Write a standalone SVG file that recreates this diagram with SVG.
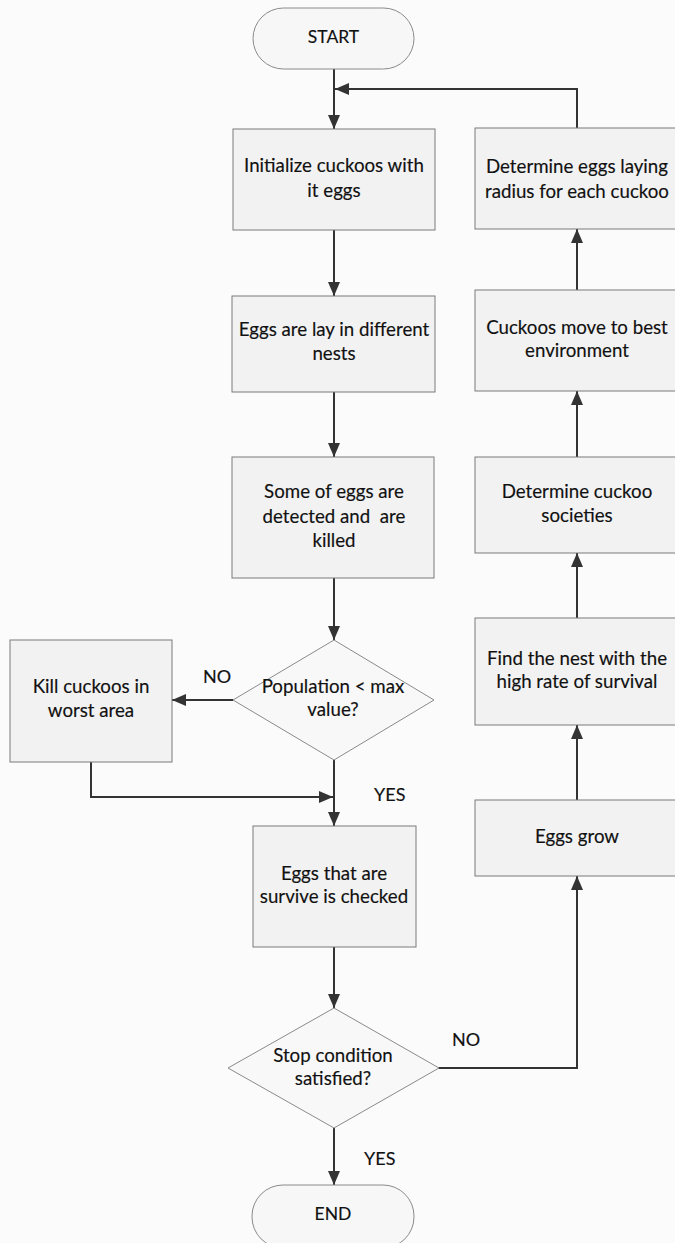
<svg xmlns="http://www.w3.org/2000/svg" width="675" height="1243" viewBox="0 0 675 1243">
<style>
  .bg { fill: #fbfbfb; }
  .box { fill: #f2f2f2; stroke: #7a7a7a; stroke-width: 1; }
  .term { fill: #f7f7f7; stroke: #8a8a8a; stroke-width: 1; }
  .dia { fill: #f8f8f8; stroke: #8a8a8a; stroke-width: 1; }
  .t { font-family: Lato, "Liberation Sans", sans-serif; font-size: 18.7px; fill: #111111; stroke: #111111; stroke-width: 0.15; text-anchor: middle; }
  .lbl { font-family: Lato, "Liberation Sans", sans-serif; font-size: 18px; fill: #111111; stroke: #111111; stroke-width: 0.15; }
  .st { font-size: 17.5px; }
  .c { fill: none; stroke: #333333; stroke-width: 2; }
</style>
<defs>
  <marker id="ah" viewBox="0 0 14 12" refX="14" refY="6" markerWidth="14" markerHeight="12" markerUnits="userSpaceOnUse" orient="auto">
    <path d="M0,0 L14,6 L0,12 Z" fill="#333333"/>
  </marker>
</defs>
<rect class="bg" x="0" y="0" width="675" height="1243"/>

<g id="connectors">
  <path class="c" d="M334,69 V129" marker-end="url(#ah)"/>
  <path class="c" d="M577,128 V89 H335" marker-end="url(#ah)"/>
  <path class="c" d="M334,230 V296" marker-end="url(#ah)"/>
  <path class="c" d="M334,392 V457" marker-end="url(#ah)"/>
  <path class="c" d="M334,578 V640" marker-end="url(#ah)"/>
  <path class="c" d="M233,700 H172" marker-end="url(#ah)"/>
  <path class="c" d="M91,762 V797 H333" marker-end="url(#ah)"/>
  <path class="c" d="M334,760 V826" marker-end="url(#ah)"/>
  <path class="c" d="M334,947 V1008" marker-end="url(#ah)"/>
  <path class="c" d="M438,1068 H577 V876" marker-end="url(#ah)"/>
  <path class="c" d="M577,800 V725" marker-end="url(#ah)"/>
  <path class="c" d="M577,618 V553" marker-end="url(#ah)"/>
  <path class="c" d="M577,457 V391" marker-end="url(#ah)"/>
  <path class="c" d="M577,290 V229" marker-end="url(#ah)"/>
  <path class="c" d="M334,1128 V1185" marker-end="url(#ah)"/>
</g>

<g id="start">
  <rect class="term" x="253" y="8" width="161" height="61" rx="30.5"/>
  <text class="t st" x="333.5" y="43">START</text>
</g>
<g id="init">
  <rect class="box" x="233" y="129" width="202" height="101"/>
  <text class="t" x="334" y="172">Initialize cuckoos with</text>
  <text class="t" x="334" y="197">it eggs</text>
</g>
<g id="lay">
  <rect class="box" x="232" y="296" width="203" height="96"/>
  <text class="t" x="334" y="336">Eggs are lay in different</text>
  <text class="t" x="334" y="360">nests</text>
</g>
<g id="detect">
  <rect class="box" x="232" y="457" width="202" height="121"/>
  <text class="t" x="334" y="498">Some of eggs are</text>
  <text class="t" x="334" y="523" xml:space="preserve">detected and  are</text>
  <text class="t" x="334" y="547">killed</text>
</g>
<g id="population">
  <polygon class="dia" points="334,640 434,700 334,760 233,700"/>
  <text class="t" x="333" y="693">Population &lt; max</text>
  <text class="t" x="333" y="716">value?</text>
</g>
<g id="kill">
  <rect class="box" x="10" y="640" width="162" height="122"/>
  <text class="t" x="91" y="693">Kill cuckoos in</text>
  <text class="t" x="91" y="717">worst area</text>
</g>
<g id="survive">
  <rect class="box" x="253" y="826" width="163" height="121"/>
  <text class="t" x="334" y="880">Eggs that are</text>
  <text class="t" x="334" y="903">survive is checked</text>
</g>
<g id="stop">
  <polygon class="dia" points="334,1008 439,1068 334,1128 228,1068"/>
  <text class="t" x="333" y="1062">Stop condition</text>
  <text class="t" x="333" y="1085">satisfied?</text>
</g>
<g id="end">
  <rect class="term" x="252" y="1185" width="162" height="63" rx="31"/>
  <text class="t st" x="333" y="1220">END</text>
</g>
<g id="radius">
  <rect class="box" x="475" y="128" width="202" height="101"/>
  <text class="t" x="577" y="173">Determine eggs laying</text>
  <text class="t" x="577" y="198">radius for each cuckoo</text>
</g>
<g id="move">
  <rect class="box" x="475" y="290" width="202" height="101"/>
  <text class="t" x="577" y="334">Cuckoos move to best</text>
  <text class="t" x="577" y="357">environment</text>
</g>
<g id="societies">
  <rect class="box" x="475" y="457" width="202" height="96"/>
  <text class="t" x="577" y="498">Determine cuckoo</text>
  <text class="t" x="577" y="522">societies</text>
</g>
<g id="nest">
  <rect class="box" x="475" y="618" width="202" height="107"/>
  <text class="t" x="577" y="665">Find the nest with the</text>
  <text class="t" x="577" y="688">high rate of survival</text>
</g>
<g id="grow">
  <rect class="box" x="475" y="800" width="202" height="76"/>
  <text class="t" x="577" y="843">Eggs grow</text>
</g>

<g id="labels">
  <text class="lbl" x="203" y="683">NO</text>
  <text class="lbl" x="374" y="801">YES</text>
  <text class="lbl" x="452" y="1046">NO</text>
  <text class="lbl" x="364" y="1165">YES</text>
</g>
</svg>
